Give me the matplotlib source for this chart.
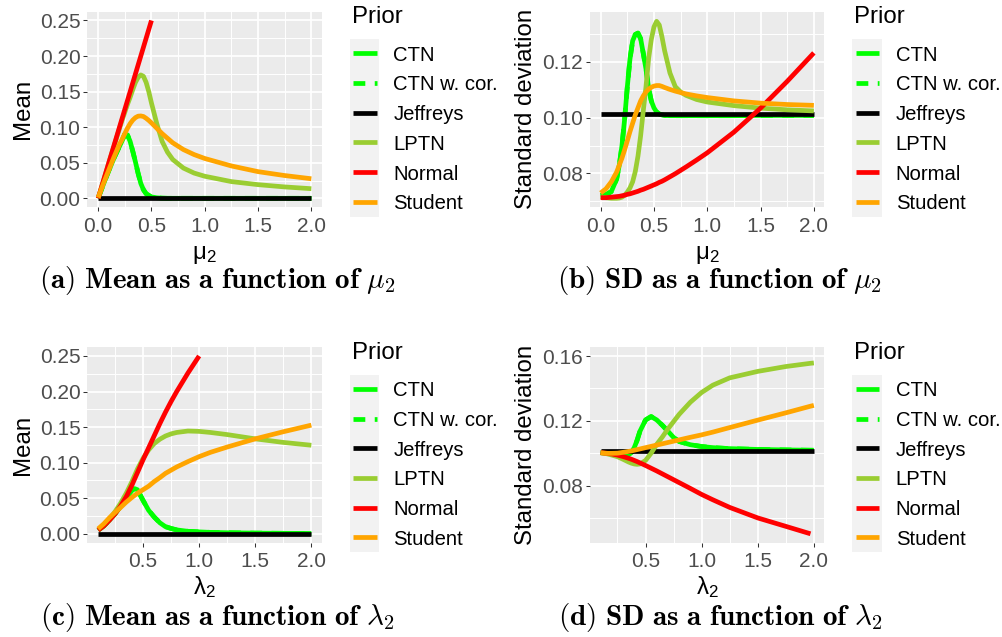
import numpy as np
import matplotlib.pyplot as plt
from matplotlib.lines import Line2D
from matplotlib.patches import Rectangle

plt.rcParams['font.family'] = ['Liberation Sans', 'DejaVu Sans']

nan = np.nan

# ---- data ----
# (a) mean as a function of mu2
mu_a = [0, 0.05, 0.1, 0.15, 0.2, 0.225, 0.25, 0.275, 0.3, 0.325, 0.35, 0.375, 0.4, 0.425,
        0.45, 0.475, 0.5, 0.55, 0.6, 0.65, 0.7, 0.8, 0.9, 1.0, 1.25, 1.5, 1.75, 2.0]
ctn_a = [0, 0.020, 0.039, 0.057, 0.073, 0.081, 0.090, 0.089, 0.080, 0.066, 0.051, 0.035, 0.021, 0.012,
         0.0065, 0.004, 0.002, 0.0007, 0.0002, 0, 0, 0, 0, 0, 0, 0, 0, 0]
jeff_a = [0] * len(mu_a)
lptn_a = [0, 0.025, 0.05, 0.074, 0.098, 0.110, 0.121, 0.132, 0.142, 0.153, 0.163, 0.170, 0.1735, 0.1715,
          0.163, 0.150, 0.134, 0.105, 0.080, 0.065, 0.0545, 0.0425, 0.0355, 0.031, 0.0235, 0.0192, 0.016, 0.0135]
normal_a = [0, 0.025, 0.05, 0.075, 0.1, 0.1125, 0.125, 0.1375, 0.15, 0.1625, 0.175, 0.1875, 0.2, 0.2125,
            0.225, 0.2375, 0.25, nan, nan, nan, nan, nan, nan, nan, nan, nan, nan, nan]
student_a = [0.001, 0.021, 0.040, 0.0586, 0.076, 0.083, 0.091, 0.0985, 0.105, 0.110, 0.1135, 0.1155, 0.1158, 0.1150,
             0.1125, 0.1095, 0.106, 0.0985, 0.091, 0.0845, 0.078, 0.0685, 0.0615, 0.056, 0.0455, 0.0375, 0.032, 0.0275]

# (b) SD as a function of mu2
mu_b = [0, 0.05, 0.1, 0.15, 0.175, 0.2, 0.225, 0.25, 0.275, 0.3, 0.325, 0.35, 0.375, 0.4, 0.425, 0.45,
        0.475, 0.5, 0.525, 0.55, 0.575, 0.6, 0.65, 0.7, 0.75, 0.8, 0.9, 1.0, 1.25, 1.5, 1.75, 2.0]
ctn_b = [0.0721, 0.0724, 0.0735, 0.078, 0.083, 0.090, 0.0995, 0.111, 0.121, 0.1275, 0.1298, 0.1303, 0.1283, 0.123,
         0.1175, 0.1105, 0.106, 0.1035, 0.102, 0.1013, 0.101, 0.1008, 0.1007, 0.1007, 0.1007, 0.1007, 0.1007,
         0.1007, 0.1007, 0.1008, 0.1008, 0.1008]
jeff_b = [0.1014] * len(mu_b)
lptn_b = [0.0716, 0.0713, 0.0711, 0.0711, 0.0712, 0.0715, 0.0722, 0.0733, 0.0748, 0.0770, 0.0807, 0.0862, 0.0935,
          0.1025, 0.1110, 0.1212, 0.1280, 0.1325, 0.1345, 0.1332, 0.1290, 0.1240, 0.1160, 0.1111, 0.1092, 0.1080,
          0.1065, 0.1056, 0.1043, 0.1034, 0.1028, 0.1024]
normal_b = [0.0713, 0.0713, 0.0715, 0.0717, 0.0718, 0.0720, 0.0722, 0.0725, 0.0727, 0.0730, 0.0733, 0.0736, 0.0740,
            0.0743, 0.0747, 0.0751, 0.0755, 0.0759, 0.0763, 0.0768, 0.0772, 0.0777, 0.0788, 0.0799, 0.0811, 0.0823,
            0.0848, 0.0874, 0.0948, 0.1034, 0.1130, 0.1232]
student_b = [0.0730, 0.0745, 0.0770, 0.0805, 0.0830, 0.0855, 0.0885, 0.0917, 0.0950, 0.0980, 0.1010, 0.1035, 0.1060,
             0.1078, 0.1092, 0.1102, 0.1109, 0.1113, 0.1115, 0.1115, 0.1112, 0.1108, 0.1101, 0.1095, 0.1090, 0.1085,
             0.1078, 0.1072, 0.1060, 0.1052, 0.1047, 0.1044]

# (c) mean as a function of lambda2
lam_c = [0.1, 0.15, 0.2, 0.25, 0.3, 0.35, 0.4, 0.425, 0.45, 0.5, 0.55, 0.6, 0.65, 0.7, 0.75, 0.8, 0.9,
         1.0, 1.1, 1.25, 1.5, 1.75, 2.0]
ctn_c = [0.005, 0.011, 0.019, 0.028, 0.039, 0.051, 0.061, 0.0635, 0.062, 0.047, 0.033, 0.0235, 0.0155, 0.010,
         0.0075, 0.0055, 0.0035, 0.0027, 0.002, 0.0015, 0.001, 0.0007, 0.0005]
jeff_c = [0] * len(lam_c)
lptn_c = [0.006, 0.012, 0.021, 0.031, 0.043, 0.057, 0.073, 0.082, 0.091, 0.106, 0.118, 0.127, 0.133, 0.1375,
          0.1405, 0.1425, 0.1445, 0.1440, 0.1425, 0.1395, 0.1335, 0.1285, 0.1245]
normal_c = [0.005, 0.011, 0.019, 0.028, 0.039, 0.052, 0.068, 0.077, 0.086, 0.104, 0.121, 0.138, 0.155, 0.171,
            0.186, 0.200, 0.226, 0.250, nan, nan, nan, nan, nan]
student_c = [0.007, 0.014, 0.0225, 0.030, 0.037, 0.0445, 0.051, 0.054, 0.057, 0.062, 0.067, 0.0735, 0.079, 0.085,
             0.0895, 0.094, 0.1015, 0.1085, 0.1145, 0.122, 0.1335, 0.1435, 0.1528]

# (d) SD as a function of lambda2
lam_d = [0.1, 0.15, 0.2, 0.25, 0.3, 0.35, 0.375, 0.4, 0.425, 0.45, 0.5, 0.55, 0.6, 0.65, 0.7, 0.75, 0.8,
         0.9, 1.0, 1.1, 1.25, 1.5, 1.75, 1.97, 2.0]
ctn_d = [0.1003, 0.1001, 0.0999, 0.0996, 0.0992, 0.0992, 0.1005, 0.1035, 0.108, 0.1135, 0.1205, 0.1226, 0.1205,
         0.1172, 0.1135, 0.1097, 0.1072, 0.1052, 0.1041, 0.1034, 0.1028, 0.1023, 0.1020, 0.1018, 0.1018]
jeff_d = [0.1015] * len(lam_d)
lptn_d = [0.1003, 0.0997, 0.0988, 0.0978, 0.0962, 0.0945, 0.0938, 0.0933, 0.0931, 0.0933, 0.0955, 0.1000, 0.1055,
          0.1100, 0.1150, 0.1195, 0.1240, 0.1315, 0.1375, 0.1420, 0.1465, 0.1505, 0.1535, 0.1555, 0.1557]
normal_d = [0.1003, 0.1000, 0.0995, 0.0988, 0.0979, 0.0968, 0.0962, 0.0955, 0.0948, 0.0940, 0.0924, 0.0907, 0.0890,
            0.0872, 0.0854, 0.0836, 0.0818, 0.0782, 0.0745, 0.0712, 0.0665, 0.0600, 0.0548, 0.0502, nan]
student_d = [0.1002, 0.0999, 0.0999, 0.1000, 0.1005, 0.1011, 0.1014, 0.1018, 0.1022, 0.1026, 0.1034, 0.1042, 0.1050,
             0.1058, 0.1066, 0.1074, 0.1082, 0.1098, 0.1113, 0.1130, 0.1158, 0.1204, 0.1249, 0.1290, 0.1295]

priors = ['CTN', 'CTN w. cor.', 'Jeffreys', 'LPTN', 'Normal', 'Student']
colors = ['#00FF00', '#00FF00', '#000000', '#9ACD32', '#FF0000', '#FFA500']
dashed = [False, True, False, False, False, False]

# ---- figure, laid out in pixels ----
W, H = 1003, 637
fig = plt.figure(figsize=(W / 100, H / 100), dpi=100)


def fx(p):
    return p / W


def fy(p):
    return 1 - p / H


LW = 3.4
PW, PH = 234.5, 195.6


def draw_panel(left, top, x, ys, xlim, ylim, xticks, xminor, yticks, yminor, ylab, xlab):
    ax = fig.add_axes([fx(left), fy(top + PH), PW / W, PH / H])
    ax.set_facecolor('#EBEBEB')
    for y, c, d in zip(ys, colors, dashed):
        if d:
            ax.plot(x, y, color=c, lw=LW, dashes=(2.5, 2.0), dash_capstyle='butt')
        else:
            ax.plot(x, y, color=c, lw=LW, solid_capstyle='butt', solid_joinstyle='round')
    ax.set_xlim(*xlim)
    ax.set_ylim(*ylim)
    ax.set_xticks(xticks)
    ax.set_xticklabels([f'{t:.1f}' for t in xticks])
    ax.set_xticks(xminor, minor=True)
    ax.set_yticks(yticks)
    ax.set_yticklabels([f'{t:.2f}' for t in yticks])
    ax.set_yticks(yminor, minor=True)
    ax.grid(which='major', color='white', lw=1.25)
    ax.grid(which='minor', color='white', lw=0.7)
    ax.set_axisbelow(True)
    for s in ax.spines.values():
        s.set_visible(False)
    ax.tick_params(which='major', length=2.9, width=0.75, color='#333333',
                   labelcolor='#4D4D4D', labelsize=15)
    ax.tick_params(axis='x', pad=4)
    ax.tick_params(axis='y', pad=2.2)
    ax.tick_params(which='minor', length=0)
    ax.set_ylabel(ylab, fontsize=17.3, va='center')
    ax.yaxis.set_label_coords((23 - 87.5) / PW, 0.5)
    ax.set_xlabel(xlab, fontsize=17.3, va='baseline')
    ax.xaxis.set_label_coords(0.5, -51.5 / PH)
    return ax


def draw_legend(dx, dy):
    fig.text(fx(351.7 + dx), fy(23.3 + dy), 'Prior', fontsize=17.3, va='baseline', ha='left')
    fig.add_artist(Rectangle((fx(350 + dx), fy(216.7 + dy)), 29.5 / W, 177.4 / H,
                             transform=fig.transFigure, facecolor='#F2F2F2', edgecolor='none'))
    for i, (name, c, d) in enumerate(zip(priors, colors, dashed)):
        yk = 53.3 + 29.7 * i + dy
        ln = Line2D([fx(353.3 + dx), fx(376.7 + dx)], [fy(yk), fy(yk)], transform=fig.transFigure,
                    color=c, lw=LW, solid_capstyle='butt')
        if d:
            ln.set_dashes((2.5, 2.0))
            ln.set_dash_capstyle('butt')
        fig.add_artist(ln)
        fig.text(fx(393.3 + dx), fy(yk + 7.4), name, fontsize=14.6, va='baseline', ha='left')


def caption(cx, base, txt):
    fig.text(fx(cx), fy(base), txt, fontsize=21, ha='center', va='baseline', math_fontfamily='cm')


DX, DY = 502.5, 335.5
ab_xt = [0, 0.5, 1.0, 1.5, 2.0]
cd_xt = [0.5, 1.0, 1.5, 2.0]
x_minor = [0.25, 0.75, 1.25, 1.75]
mean_yt = [0, 0.05, 0.1, 0.15, 0.2, 0.25]
mean_ym = [0.025, 0.075, 0.125, 0.175, 0.225]
mu_lab = r'$\mathregular{\mu_2}$'
lam_lab = r'$\mathregular{\lambda_2}$'

draw_panel(87.5, 11.6, mu_a, [ctn_a, ctn_a, jeff_a, lptn_a, normal_a, student_a],
           (-0.1, 2.1), (-0.0125, 0.2625), ab_xt, x_minor, mean_yt, mean_ym, 'Mean', mu_lab)
draw_panel(87.5 + DX, 11.6, mu_b, [ctn_b, ctn_b, jeff_b, lptn_b, normal_b, student_b],
           (-0.1, 2.1), (0.0679, 0.1380), ab_xt, x_minor, [0.08, 0.10, 0.12], [0.07, 0.09, 0.11, 0.13],
           'Standard deviation', mu_lab)
draw_panel(87.5, 11.6 + DY, lam_c, [ctn_c, ctn_c, jeff_c, lptn_c, normal_c, student_c],
           (0.005, 2.095), (-0.0125, 0.2625), cd_xt, x_minor, mean_yt, mean_ym, 'Mean', lam_lab)
draw_panel(87.5 + DX, 11.6 + DY, lam_d, [ctn_d, ctn_d, jeff_d, lptn_d, normal_d, student_d],
           (0.005, 2.095), (0.0447, 0.1655), cd_xt, x_minor, [0.08, 0.12, 0.16], [0.06, 0.10, 0.14],
           'Standard deviation', lam_lab)

for dx in (0, DX):
    for dy in (0, DY):
        draw_legend(dx, dy)

caption(217.5, 288.3, r'$\mathbf{(a)\ Mean\ as\ a\ function\ of}\ \mu_2$')
caption(217.5 + DX, 288.3, r'$\mathbf{(b)\ SD\ as\ a\ function\ of}\ \mu_2$')
caption(217.5, 288.3 + 336.5, r'$\mathbf{(c)\ Mean\ as\ a\ function\ of}\ \lambda_2$')
caption(217.5 + DX, 288.3 + 336.5, r'$\mathbf{(d)\ SD\ as\ a\ function\ of}\ \lambda_2$')

fig.savefig('out.png', dpi=100)
